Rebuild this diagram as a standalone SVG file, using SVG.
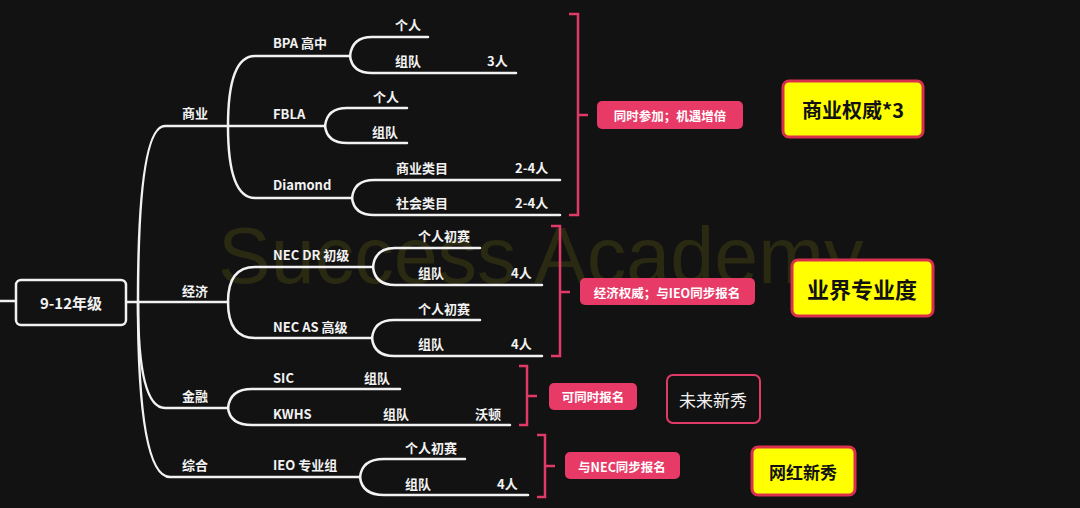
<svg xmlns="http://www.w3.org/2000/svg" width="1080" height="508" viewBox="0 0 1080 508">
<style>
.bg{fill:#121212}
.wm{font-family:"Liberation Sans",Arial,sans-serif;font-size:79px;fill:#2a2912}
.ln{fill:none;stroke:#f2f2f2;stroke-width:2.5;stroke-linecap:round}
.br{fill:none;stroke:#e23a68;stroke-width:2.5}
.t{font-family:"Noto Sans CJK SC","Noto Sans",sans-serif;font-size:13px;font-weight:bold;fill:#f2f2f2;dominant-baseline:central}
.pl rect{fill:#e83a66}
.pl text{font-family:"Noto Sans CJK SC",sans-serif;font-size:12.5px;font-weight:bold;fill:#fff;text-anchor:middle;dominant-baseline:central}
.yb rect{fill:#ffff00;stroke:#d9304e;stroke-width:3}
.yb text{font-family:"Noto Sans CJK SC",sans-serif;font-weight:bold;fill:#111;text-anchor:middle;dominant-baseline:central}
</style>
<rect class="bg" x="0" y="0" width="1080" height="508"/>
<text class="wm" x="218" y="283">Success Academy</text>

<g id="connectors">
<path class="ln" d="M0 301 H16"/>
<path class="ln" d="M126 302 H228"/>
<path class="ln" d="M138 302 Q138 126 165 126 H325"/>
<path class="ln" d="M228 126 Q228 56 255 56 H350"/>
<path class="ln" d="M228 126 Q228 198 255 198 H352"/>
<path class="ln" d="M350 56 Q352 37 372 37 H428"/>
<path class="ln" d="M350 56 Q352 73 372 73 H516"/>
<path class="ln" d="M325 126 Q327 108 347 108 H407"/>
<path class="ln" d="M325 126 Q327 143 347 143 H407"/>
<path class="ln" d="M352 198 Q354 180 374 180 H560"/>
<path class="ln" d="M352 198 Q354 215 374 215 H560"/>
<path class="ln" d="M228 302 Q228 267 255 267 H373"/>
<path class="ln" d="M228 302 Q228 338 255 338 H372"/>
<path class="ln" d="M373 267 Q375 248 395 248 H480"/>
<path class="ln" d="M373 267 Q375 285 395 285 H542"/>
<path class="ln" d="M372 338 Q374 320 394 320 H480"/>
<path class="ln" d="M372 338 Q374 356 394 356 H542"/>
<path class="ln" d="M138 302 Q138 408 165 408 H228"/>
<path class="ln" d="M228 408 Q230 389 252 389 H400"/>
<path class="ln" d="M228 408 Q230 425 252 425 H510"/>
<path class="ln" d="M138 302 Q138 477 170 477 H360"/>
<path class="ln" d="M360 477 Q362 459 384 459 H465"/>
<path class="ln" d="M360 477 Q362 495 384 495 H528"/>
</g>

<g id="brackets">
<path class="br" d="M569 14 H578 V215 H569 M578 115 H588"/>
<path class="br" d="M551 226 H560 V356 H551 M560 292 H570"/>
<path class="br" d="M519 366 H527 V425 H519 M527 396 H537"/>
<path class="br" d="M537 435 H545 V497 H537 M545 466 H555"/>
</g>

<g id="root">
<rect x="16" y="280" width="110" height="45" rx="5" fill="#121212" stroke="#f2f2f2" stroke-width="2.5"/>
<text class="t" x="71" y="302" text-anchor="middle" style="font-size:15px">9-12年级</text>
</g>

<g id="business">
<text class="t" x="182" y="112">商业</text>
<text class="t" x="273" y="42">BPA 高中</text>
<text class="t" x="395" y="24">个人</text>
<text class="t" x="395" y="60">组队</text>
<text class="t" x="487" y="60">3人</text>
<text class="t" x="273" y="113">FBLA</text>
<text class="t" x="373" y="96">个人</text>
<text class="t" x="372" y="131">组队</text>
<text class="t" x="273" y="184">Diamond</text>
<text class="t" x="396" y="167">商业类目</text>
<text class="t" x="515" y="167">2-4人</text>
<text class="t" x="396" y="202">社会类目</text>
<text class="t" x="515" y="202">2-4人</text>
</g>

<g id="economy">
<text class="t" x="182" y="290">经济</text>
<text class="t" x="273" y="254">NEC DR 初级</text>
<text class="t" x="418" y="235">个人初赛</text>
<text class="t" x="418" y="272">组队</text>
<text class="t" x="511" y="272">4人</text>
<text class="t" x="273" y="326">NEC AS 高级</text>
<text class="t" x="418" y="308">个人初赛</text>
<text class="t" x="418" y="343">组队</text>
<text class="t" x="511" y="343">4人</text>
</g>

<g id="finance">
<text class="t" x="182" y="395">金融</text>
<text class="t" x="273" y="377">SIC</text>
<text class="t" x="364" y="377">组队</text>
<text class="t" x="273" y="413">KWHS</text>
<text class="t" x="383" y="413">组队</text>
<text class="t" x="475" y="413">沃顿</text>
</g>

<g id="general">
<text class="t" x="182" y="464">综合</text>
<text class="t" x="273" y="464">IEO 专业组</text>
<text class="t" x="405" y="447">个人初赛</text>
<text class="t" x="405" y="483">组队</text>
<text class="t" x="497" y="483">4人</text>
</g>

<g id="note1" class="pl">
<rect x="597" y="101" width="146" height="28" rx="5"/>
<text x="670" y="115">同时参加；机遇增倍</text>
</g>
<g id="note2" class="pl">
<rect x="580" y="278" width="175" height="27" rx="5"/>
<text x="667" y="292">经济权威；与IEO同步报名</text>
</g>
<g id="note3" class="pl">
<rect x="549" y="383" width="88" height="27" rx="5"/>
<text x="593" y="396">可同时报名</text>
</g>
<g id="note4" class="pl">
<rect x="565" y="452" width="115" height="27" rx="5"/>
<text x="622" y="466">与NEC同步报名</text>
</g>

<g id="tag1" class="yb">
<rect x="783" y="81" width="140" height="56" rx="6"/>
<text x="853" y="109" style="font-size:20px">商业权威*3</text>
</g>
<g id="tag2" class="yb">
<rect x="792" y="260" width="141" height="56" rx="6"/>
<text x="862" y="288" style="font-size:22px">业界专业度</text>
</g>
<g id="tag3">
<rect x="667" y="375" width="93" height="48" rx="6" fill="#121212" stroke="#e23a68" stroke-width="2"/>
<text x="713" y="399" text-anchor="middle" dominant-baseline="central" style="font-family:'Noto Sans CJK SC',sans-serif;font-size:17px;fill:#f2f2f2">未来新秀</text>
</g>
<g id="tag4" class="yb">
<rect x="752" y="447" width="103" height="48" rx="6"/>
<text x="803" y="471" style="font-size:17px">网红新秀</text>
</g>
</svg>
